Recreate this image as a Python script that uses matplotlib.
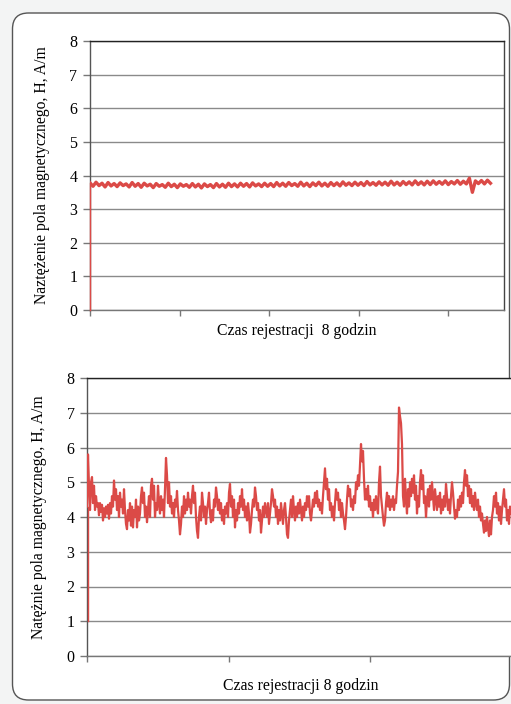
import matplotlib.pyplot as plt
import numpy as np
from matplotlib.patches import FancyBboxPatch

# top chart: field strength, one value every ~3 px of the record
top_start = 0.0
top_vals = [3.78, 3.68, 3.80, 3.70, 3.77, 3.66, 3.79, 3.69, 3.76, 3.67, 3.78, 3.70, 3.75, 3.66, 3.79, 3.68,
            3.76, 3.65, 3.77, 3.69, 3.74, 3.64, 3.76, 3.68, 3.73, 3.65, 3.77, 3.67, 3.74, 3.64, 3.75, 3.68,
            3.73, 3.65, 3.76, 3.66, 3.74, 3.63, 3.75, 3.67, 3.73, 3.64, 3.76, 3.66, 3.74, 3.65, 3.77, 3.67,
            3.75, 3.66, 3.77, 3.68, 3.76, 3.66, 3.78, 3.69, 3.75, 3.67, 3.77, 3.68, 3.76, 3.67, 3.79, 3.69,
            3.77, 3.68, 3.79, 3.70, 3.76, 3.68, 3.80, 3.69, 3.77, 3.67, 3.78, 3.70, 3.80, 3.69, 3.77, 3.68,
            3.79, 3.70, 3.78, 3.69, 3.81, 3.71, 3.78, 3.70, 3.80, 3.71, 3.79, 3.70, 3.82, 3.72, 3.79, 3.71,
            3.81, 3.72, 3.80, 3.71, 3.83, 3.72, 3.80, 3.71, 3.82, 3.73, 3.81, 3.72, 3.84, 3.73, 3.81, 3.72,
            3.83, 3.73, 3.84, 3.74, 3.82, 3.74, 3.84, 3.73, 3.82, 3.75, 3.85, 3.74, 3.83, 3.75, 3.92, 3.50,
            3.84, 3.76, 3.85, 3.75, 3.86, 3.77]

# bottom chart: one value per px of the record
bot_start = 1.0
bot_vals = [
    # 0 - 70
    4.3, 5.8, 4.9, 4.2, 5.0, 5.15, 4.4, 4.9, 4.2, 4.6, 4.3, 4.4, 4.05, 4.4, 4.15, 4.35, 3.9, 4.25, 4.0, 4.3,
    4.1, 4.35, 3.95, 4.4, 4.1, 4.6, 4.3, 5.05, 4.5, 4.8, 4.2, 4.6, 4.0, 4.7, 4.3, 4.5, 4.1, 4.8, 4.2, 3.8,
    3.65, 4.2, 3.9, 4.4, 3.75, 4.3, 3.7, 4.2, 4.0, 4.5, 3.7, 4.3, 3.9, 4.1, 4.6, 4.85, 4.4, 4.7, 4.0, 4.3,
    3.85, 4.2, 4.6, 4.0, 4.9, 5.1, 4.5, 4.9, 4.0, 4.4,
    # 70 - 140
    4.2, 4.9, 4.4, 4.1, 4.6, 4.2, 4.5, 4.0, 4.8, 5.7, 5.2, 4.4, 5.0, 4.3, 4.6, 4.1, 4.4, 4.0, 4.5, 4.3,
    4.75, 4.2, 3.9, 3.5, 3.8, 4.3, 4.0, 4.6, 4.1, 4.5, 4.2, 4.7, 4.3, 4.5, 4.1, 4.6, 4.9, 4.4, 4.7, 4.0,
    3.6, 3.4, 4.0, 4.3, 3.9, 4.7, 4.4, 4.0, 4.3, 3.8, 4.2, 4.4, 4.7, 4.1, 3.85, 4.2, 3.9, 4.5, 4.3, 4.85,
    4.6, 4.2, 4.5, 4.1, 4.4, 3.9, 4.2, 3.8, 4.3, 4.1,
    # 140 - 210
    4.4, 4.0, 4.7, 4.95, 4.3, 4.6, 4.0, 4.5, 3.7, 4.2, 3.9, 4.4, 4.1, 4.6, 4.3, 4.8, 4.2, 4.5, 4.0, 4.3,
    3.9, 4.4, 4.1, 3.55, 3.8, 4.2, 4.5, 4.3, 4.85, 4.6, 4.2, 4.4, 3.9, 4.2, 3.55, 3.9, 4.3, 4.0, 4.4, 4.2,
    4.0, 4.4, 3.8, 4.1, 4.4, 4.8, 4.6, 4.3, 4.5, 4.0, 4.3, 3.8, 4.2, 3.9, 4.4, 4.1, 3.8, 4.2, 4.4, 4.0,
    3.5, 3.4, 3.9, 4.2, 4.5, 4.0, 4.6, 4.2, 3.9, 4.3,
    # 210 - 280
    4.0, 4.4, 4.1, 4.5, 4.2, 3.9, 4.3, 4.0, 4.4, 4.2, 4.6, 4.3, 4.6, 4.1, 3.9, 4.2, 4.5, 4.3, 4.7, 4.4,
    4.75, 4.3, 4.5, 4.2, 4.4, 4.1, 4.6, 5.0, 5.4, 4.8, 5.1, 4.5, 4.8, 4.2, 4.4, 4.0, 4.3, 3.9, 4.4, 4.8,
    4.5, 4.7, 4.2, 4.5, 4.0, 4.4, 4.1, 3.9, 3.65, 4.0, 4.5, 4.9, 4.6, 4.8, 4.3, 4.5, 4.2, 4.6, 4.4, 5.0,
    4.8, 5.2, 4.9, 5.5, 6.1, 5.6, 5.9, 5.1, 4.5, 4.8,
    # 280 - 350
    4.5, 4.9, 4.3, 4.6, 4.2, 4.4, 4.0, 4.5, 4.2, 4.6, 4.3, 4.1, 5.0, 5.45, 4.6, 4.3, 4.0, 3.75, 3.9, 4.4,
    4.7, 4.3, 4.6, 4.2, 4.5, 4.3, 4.6, 4.2, 4.5, 4.4, 4.9, 5.3, 7.15, 6.9, 6.7, 6.1, 4.6, 4.3, 5.1, 4.5,
    4.1, 4.8, 4.3, 5.0, 4.6, 5.1, 4.7, 5.2, 4.5, 4.9, 4.1, 4.6, 4.3, 5.0, 5.35, 4.8, 5.2, 4.4, 4.6, 4.0,
    4.5, 4.8, 4.3, 4.9, 4.5, 5.0, 4.6, 4.2, 4.8, 4.5,
    # 350 - 425
    4.2, 4.6, 4.3, 4.7, 4.1, 4.5, 4.2, 4.6, 4.3, 4.95, 4.6, 4.2, 4.5, 4.1, 4.6, 5.0, 4.7, 4.3, 3.95, 4.2,
    4.0, 4.5, 4.2, 4.6, 4.3, 4.7, 4.4, 5.0, 5.35, 4.9, 5.2, 4.6, 4.9, 4.4, 4.8, 4.3, 4.6, 4.2, 4.7, 4.4,
    4.2, 4.5, 4.0, 4.3, 3.9, 4.1, 3.8, 3.55, 3.9, 3.6, 4.0, 3.7, 3.45, 3.9, 3.5, 4.0, 4.2, 4.6, 4.3, 4.7,
    4.1, 4.4, 3.9, 4.3, 3.8, 4.2, 4.5, 4.8, 4.3, 4.5, 3.9, 4.2, 3.8, 4.3, 4.1]

top_label = 'Naztężenie pola magnetycznego, H, A/m'
bot_label = 'Natężnie pola magnetycznego, H, A/m'
top_xlabel = 'Czas rejestracji  8 godzin'
bot_xlabel = 'Czas rejestracji 8 godzin'

plt.rcParams['font.family'] = ['Liberation Serif', 'DejaVu Serif']
red = '#db4a47'

fig = plt.figure(figsize=(5.11, 7.04), dpi=100)
fig.patch.set_facecolor('#f3f4f4')

# rounded white panel, drawn in pixel coords
bg = fig.add_axes([0, 0, 1, 1], zorder=-1)
bg.set_xlim(0, 511)
bg.set_ylim(704, 0)
bg.axis('off')
bg.add_patch(FancyBboxPatch((12.5, 13), 497, 687, boxstyle='round,pad=0,rounding_size=16',
                            fc='white', ec='#555555', lw=1.0))


def style(ax, xstep, xmax, ylabel, xlabel, lab_x, xpad):
    ax.set_ylim(0, 8)
    ax.set_yticks(range(0, 9))
    ax.set_xlim(0, xmax)
    ax.set_xticks(np.arange(0, xmax, xstep))
    ax.set_xticklabels([])
    ax.yaxis.grid(True, color='#8a8a8a', lw=1.0)
    ax.set_axisbelow(True)
    ax.tick_params(axis='y', length=5, width=1, color='#777777', labelsize=11.5, pad=4)
    ax.tick_params(axis='x', length=4, width=1, color='#777777')
    ax.spines['top'].set_color('#222222')
    ax.spines['left'].set_color('#555555')
    ax.spines['bottom'].set_color('#777777')
    ax.spines['right'].set_color('#444444')
    for s in ax.spines.values():
        s.set_linewidth(1.0)
    ax.set_ylabel(ylabel, fontsize=11.3)
    ax.yaxis.set_label_coords(lab_x, 0.5)
    ax.set_xlabel(xlabel, fontsize=11.3, labelpad=xpad)


ax1 = fig.add_axes([90 / 511, (704 - 310) / 704, 414 / 511, 269 / 704])
# thin rise from the start value, then the record itself
ax1.plot([0, 0], [top_start, top_vals[0]], color=red, lw=1.0, zorder=3, clip_on=False)
ax1.plot(np.arange(len(top_vals)), top_vals, color=red, lw=2.4, zorder=3)
style(ax1, 29.75, 137.5, top_label, top_xlabel, -0.096, 2)

ax2 = fig.add_axes([87 / 511, (704 - 656) / 704, 427 / 511, 278 / 704])
ax2.plot([0.5, 0.5], [bot_start, bot_vals[0]], color=red, lw=1.0, zorder=3, clip_on=False)
ax2.plot(np.arange(len(bot_vals)), bot_vals, color=red, lw=1.6, zorder=3)
style(ax2, 141.5, 427, bot_label, bot_xlabel, -0.094, 8)

fig.savefig('out.png', dpi=100, facecolor=fig.get_facecolor())
